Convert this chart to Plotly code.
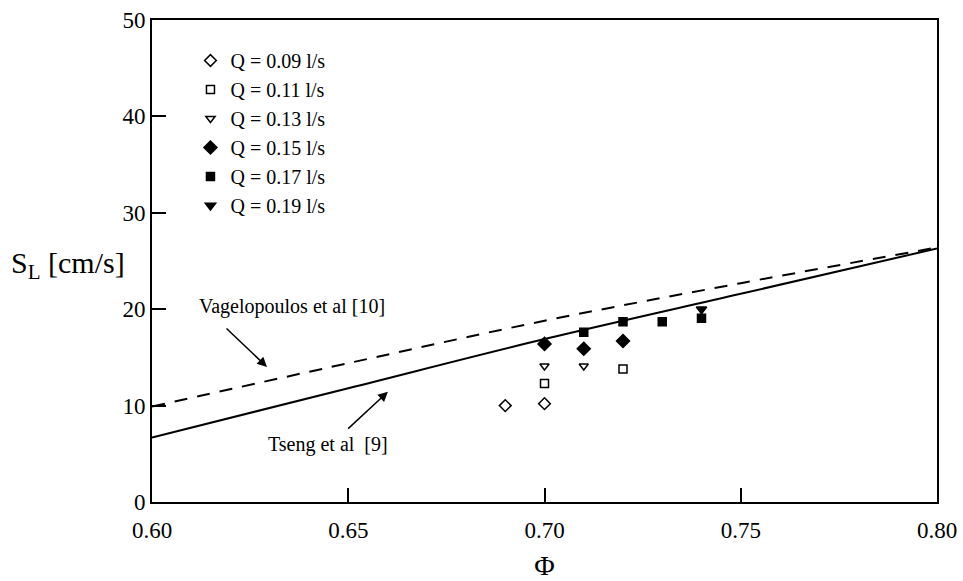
import plotly.graph_objects as go

# Correlation curves
phi_curve = [0.60, 0.65, 0.70, 0.75, 0.80]
tseng_sl = [6.7, 11.8, 16.9, 21.6, 26.3]
vagel_sl = [9.9, 14.4, 18.8, 22.7, 26.4]

# Measured data
q_labels = ["Q = 0.09 l/s", "Q = 0.11 l/s", "Q = 0.13 l/s",
            "Q = 0.15 l/s", "Q = 0.17 l/s", "Q = 0.19 l/s"]
phi_q009 = [0.69, 0.70]
sl_q009 = [10.0, 10.2]
phi_q011 = [0.70, 0.72]
sl_q011 = [12.3, 13.8]
phi_q013 = [0.70, 0.71]
sl_q013 = [14.1, 14.1]
phi_q015 = [0.70, 0.71, 0.72]
sl_q015 = [16.4, 15.9, 16.7]
phi_q017 = [0.71, 0.72, 0.73, 0.74]
sl_q017 = [17.6, 18.7, 18.7, 19.05]
phi_q019 = [0.74]
sl_q019 = [20.0]

x_ticks = [0.60, 0.65, 0.70, 0.75, 0.80]
x_ticklabels = ["0.60", "0.65", "0.70", "0.75", "0.80"]
y_ticks = [0, 10, 20, 30, 40, 50]

FONT = "Liberation Serif, Times New Roman, serif"
W, H = 963, 581
ML, MR, MT, MB = 152, 26, 20, 79

fig = go.Figure()

fig.add_trace(go.Scatter(x=phi_curve, y=tseng_sl, mode="lines",
                         line=dict(color="black", width=2, shape="spline"),
                         showlegend=False, hoverinfo="skip"))
fig.add_trace(go.Scatter(x=phi_curve, y=vagel_sl, mode="lines",
                         line=dict(color="black", width=2, dash="13px,10px", shape="spline"),
                         showlegend=False, hoverinfo="skip"))

series = [
    (phi_q009, sl_q009, "diamond-open", 9),
    (phi_q011, sl_q011, "square-open", 8),
    (phi_q013, sl_q013, "triangle-down-open", 8),
    (phi_q015, sl_q015, "diamond", 10),
    (phi_q017, sl_q017, "square", 8),
    (phi_q019, sl_q019, "triangle-down", 9),
]
for (xs, ys, sym, sz), name in zip(series, q_labels):
    fig.add_trace(go.Scatter(x=xs, y=ys, mode="markers", name=name,
                             marker=dict(symbol=sym, size=sz, color="black",
                                         line=dict(color="black", width=1.5))))

fig.add_annotation(x=0.6293, y=14.0, ax=0.6186, ay=18.15, axref="x", ayref="y",
                   xref="x", yref="y", text="", showarrow=True,
                   arrowhead=2, arrowsize=1.3, arrowwidth=1.5, arrowcolor="black")
fig.add_annotation(x=0.6601, y=11.44, ax=0.6496, ay=7.47, axref="x", ayref="y",
                   xref="x", yref="y", text="", showarrow=True,
                   arrowhead=2, arrowsize=1.3, arrowwidth=1.5, arrowcolor="black")
fig.add_annotation(x=0.6357, y=20.3, xref="x", yref="y",
                   text="Vagelopoulos et al [10]", showarrow=False,
                   font=dict(family=FONT, size=20, color="black"))
fig.add_annotation(x=0.6448, y=6.0, xref="x", yref="y",
                   text="Tseng et al  [9]", showarrow=False,
                   font=dict(family=FONT, size=20, color="black"))

# y-axis title placed horizontally, as in the reference
fig.add_annotation(x=(9 - ML) / (W - ML - MR), y=(H - MB - 265) / (H - MT - MB),
                   xref="paper", yref="paper",
                   text="S<sub>L</sub> [cm/s]", showarrow=False,
                   xanchor="left", yanchor="middle",
                   font=dict(family=FONT, size=30, color="black"))

fig.update_layout(
    width=W, height=H,
    margin=dict(l=ML, r=MR, t=MT, b=MB, autoexpand=False),
    paper_bgcolor="white", plot_bgcolor="white",
    font=dict(family=FONT, size=20, color="black"),
    showlegend=True,
    legend=dict(x=0.049, y=1 - 21 / 482, xanchor="left", yanchor="top",
                bgcolor="rgba(0,0,0,0)", font=dict(family=FONT, size=20),
                tracegroupgap=0, itemsizing="trace"),
)

fig.update_xaxes(range=[0.60, 0.80], tickvals=x_ticks, ticktext=x_ticklabels,
                 ticks="inside", ticklen=14, tickwidth=1.5, tickcolor="black",
                 showline=True, linecolor="black", linewidth=2, mirror=True,
                 showgrid=False, zeroline=False, automargin=False,
                 ticklabelstandoff=6,
                 title=dict(text="Φ", font=dict(family=FONT, size=28), standoff=16),
                 tickfont=dict(family=FONT, size=23))
fig.update_yaxes(range=[0, 50], tickvals=y_ticks,
                 ticks="inside", ticklen=14, tickwidth=1.5, tickcolor="black",
                 showline=True, linecolor="black", linewidth=2, mirror=True,
                 showgrid=False, zeroline=False, automargin=False,
                 tickfont=dict(family=FONT, size=23))

fig.write_html("out.html", config={"displayModeBar": False},
               post_script="document.body.style.margin='0';document.body.style.overflow='hidden';")
